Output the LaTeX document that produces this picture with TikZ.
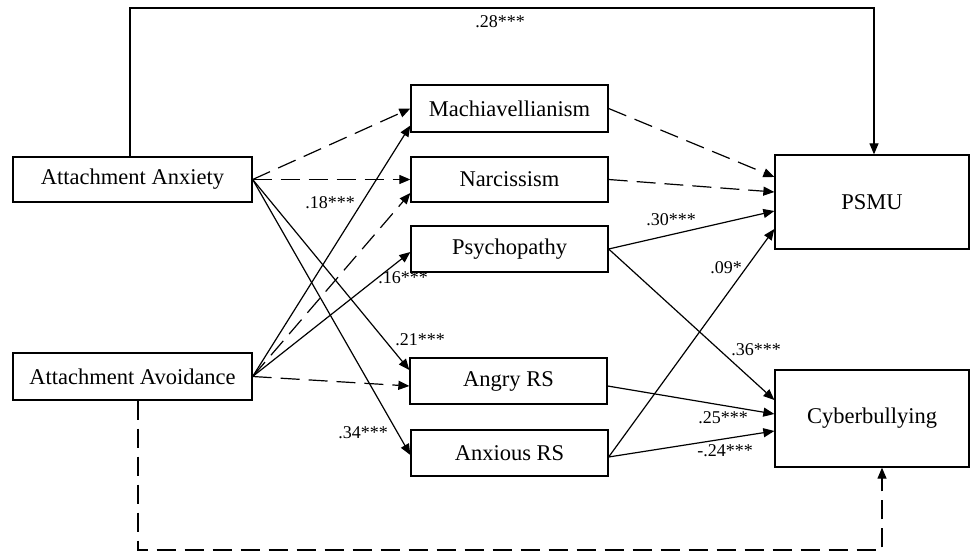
\documentclass[tikz,border=0pt]{standalone}
\usepackage{fontspec}
\setmainfont{Liberation Serif}
\usetikzlibrary{arrows.meta}
\begin{document}
\begin{tikzpicture}[x=1pt,y=-1pt,
  box/.style={draw,line width=1.3pt,inner sep=0pt,font=\fontsize{22.5}{26}\selectfont},
  conn/.style={line width=1.2pt,-{Triangle[length=11pt,width=9pt]}},
  dsh/.style={conn,dash pattern=on 19pt off 9pt},
  lab/.style={inner sep=0pt,font=\fontsize{18}{20}\selectfont}]
\useasboundingbox[fill=white] (0,0) rectangle (972,553);
% boxes
\node[box,minimum width=239pt,minimum height=45pt] (anx) at (132.5,179.5) {Attachment Anxiety};
\node[box,minimum width=239pt,minimum height=47pt] (avo) at (132.5,376.5) {Attachment Avoidance};
\node[box,minimum width=197pt,minimum height=47pt] (mach) at (509.5,108.5) {Machiavellianism};
\node[box,minimum width=197pt,minimum height=45pt] (narc) at (509.5,179.5) {Narcissism};
\node[box,minimum width=197pt,minimum height=46pt] (psych) at (509.5,249) {Psychopathy};
\node[box,minimum width=197pt,minimum height=46pt] (angry) at (508.5,381) {Angry RS};
\node[box,minimum width=197pt,minimum height=46pt] (anxrs) at (509.5,453) {Anxious RS};
\node[box,minimum width=194pt,minimum height=94pt] (psmu) at (872,202) {PSMU};
\node[box,minimum width=194pt,minimum height=97pt] (cyber) at (872,418.5) {Cyberbullying};
% helper coordinates
\coordinate (top) at (500,8);
\coordinate (bot) at (500,550);
% top and bottom paths
\draw[conn] ([xshift=-2.5pt]anx.north) |- (top) -| ([xshift=2pt]psmu.north);
\draw[dsh] ([xshift=5.5pt]avo.south) |- (bot) -| ([xshift=10pt]cyber.south);
% from attachment anxiety
\draw[dsh] (anx.east) -- (mach.west);
\draw[dsh] (anx.east) -- (narc.west);
\draw[conn] (anx.east) -- ([yshift=11pt]angry.west);
\draw[conn] (anx.east) -- ([yshift=-2pt]anxrs.west);
% from attachment avoidance
\draw[conn] (avo.east) -- ([yshift=-17pt]mach.west);
\draw[dsh] (avo.east) -- ([yshift=-13.5pt]narc.west);
\draw[conn] (avo.east) -- ([yshift=-3pt]psych.west);
\draw[dsh] (avo.east) -- ([yshift=-5pt]angry.west);
% to PSMU
\draw[dsh] (mach.east) -- ([yshift=25pt]psmu.west);
\draw[dsh] (narc.east) -- ([yshift=10pt]psmu.west);
\draw[conn] (psych.east) -- ([yshift=-9pt]psmu.west);
\draw[conn] ([yshift=-4pt]anxrs.east) -- ([yshift=-27pt]psmu.west);
% to Cyberbullying
\draw[conn] (psych.east) -- ([yshift=18.5pt]cyber.west);
\draw[conn] ([yshift=-5pt]angry.east) -- ([yshift=4.5pt]cyber.west);
\draw[conn] ([yshift=-4pt]anxrs.east) -- ([yshift=-12.5pt]cyber.west);
% labels
\node[lab] (l28) at (500,22) {.28***};
\node[lab] (l18) at (330,203) {.18***};
\node[lab] (l16) at (403,278) {.16***};
\node[lab] (l21) at (420,340) {.21***};
\node[lab] (l34) at (363,433) {.34***};
\node[lab] (l30) at (671,220) {.30***};
\node[lab] (l09) at (726,268) {.09*};
\node[lab] (l36) at (756,350) {.36***};
\node[lab] (l25) at (723,418) {.25***};
\node[lab] (l24) at (725,451) {-.24***};
\end{tikzpicture}
\end{document}
